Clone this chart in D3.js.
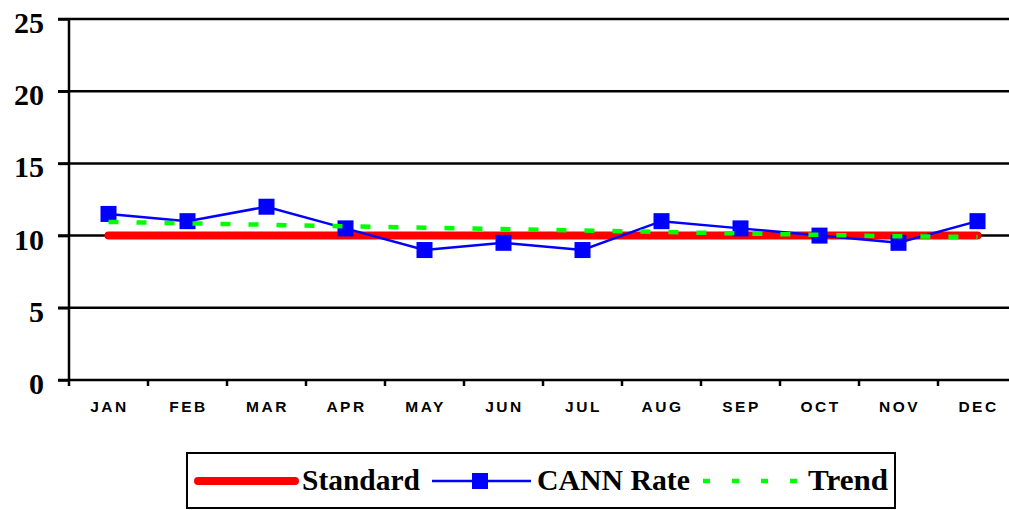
<!DOCTYPE html>
<html>
<head>
<meta charset="utf-8">
<script src="https://cdn.jsdelivr.net/npm/d3@7"></script>
<style>
  html, body { margin: 0; padding: 0; background: #fff; }
  svg { display: block; }
</style>
</head>
<body>
<svg width="1009" height="510"></svg>
<script>
(function () {

var months = ['JAN','FEB','MAR','APR','MAY','JUN','JUL','AUG','SEP','OCT','NOV','DEC'];
var standard = [10,10,10,10,10,10,10,10,10,10,10,10];
var cannRate = [11.5,11,12,10.5,9,9.5,9,11,10.5,10,9.5,11];
var trend = [10.95,10.85,10.75,10.65,10.55,10.45,10.35,10.25,10.15,10.05,9.95,9.9];
var yTicks = [0,5,10,15,20,25];

var svg = d3.select('svg');

var x = d3.scaleBand().domain(months).range([69, 1017]);
var y = d3.scaleLinear().domain([0, 25]).range([380, 19]);
var cx = function (i) { return x(months[i]) + x.bandwidth() / 2; };

// grid lines
svg.selectAll('line.grid')
  .data(yTicks.filter(function (d) { return d > 0; }))
  .enter().append('line')
  .attr('x1', 58).attr('x2', 1009)
  .attr('y1', function (d) { return y(d); })
  .attr('y2', function (d) { return y(d); })
  .style('stroke', '#000').style('stroke-width', 2.5);

// y axis
var yAxis = svg.append('g')
  .attr('transform', 'translate(69,0)')
  .call(d3.axisLeft(y).tickValues(yTicks).tickSize(11).tickPadding(14));
yAxis.select('.domain').attr('d', 'M0,19V380').style('stroke-width', 2.5);
yAxis.selectAll('.tick line').style('stroke-width', 2.5);
yAxis.selectAll('text')
  .attr('dy', '0.45em')
  .style('font-family', '"Liberation Serif", "Times New Roman", serif')
  .style('font-weight', 'bold')
  .style('font-size', '30px')
  .style('fill', '#000');

// x axis
var xAxis = svg.append('g')
  .attr('transform', 'translate(0,380)');
xAxis.append('line')
  .attr('x1', 58).attr('x2', 1009)
  .style('stroke', '#000').style('stroke-width', 2.5);
xAxis.selectAll('line.tk')
  .data(months)
  .enter().append('line')
  .attr('x1', function (d) { return x(d); })
  .attr('x2', function (d) { return x(d); })
  .attr('y1', 0).attr('y2', 6)
  .style('stroke', '#000').style('stroke-width', 2.5);
xAxis.selectAll('text')
  .data(months)
  .enter().append('text')
  .attr('x', function (d) { return x(d) + x.bandwidth() / 2 + 1; })
  .attr('y', 32)
  .attr('text-anchor', 'middle')
  .style('font-family', '"Liberation Sans", Arial, sans-serif')
  .style('font-weight', 'bold')
  .style('font-size', '15.5px')
  .style('letter-spacing', '2.5px')
  .text(function (d) { return d; });

var line = d3.line()
  .x(function (d, i) { return cx(i); })
  .y(function (d) { return y(d); });

// standard
svg.append('path')
  .datum(standard)
  .attr('d', line)
  .style('fill', 'none')
  .style('stroke', '#ff0000')
  .style('stroke-width', 8)
  .style('stroke-linecap', 'round');

// cann rate
svg.append('path')
  .datum(cannRate)
  .attr('d', line)
  .style('fill', 'none')
  .style('stroke', '#0000ff')
  .style('stroke-width', 2.5);

svg.selectAll('rect.pt')
  .data(cannRate)
  .enter().append('rect')
  .attr('x', function (d, i) { return cx(i) - 8; })
  .attr('y', function (d) { return y(d) - 8; })
  .attr('width', 16).attr('height', 16)
  .style('fill', '#0000ff');

// trend
svg.append('path')
  .datum(trend)
  .attr('d', line)
  .style('fill', 'none')
  .style('stroke', '#00ff00')
  .style('stroke-width', 4.5)
  .style('stroke-dasharray', '10,18');

// legend
var lg = svg.append('g');
lg.append('rect')
  .attr('x', 187).attr('y', 453)
  .attr('width', 708).attr('height', 55)
  .style('fill', '#fff')
  .style('stroke', '#000').style('stroke-width', 2);

var ly = 481;
lg.append('line')
  .attr('x1', 198).attr('x2', 295).attr('y1', ly).attr('y2', ly)
  .style('stroke', '#ff0000').style('stroke-width', 8).style('stroke-linecap', 'round');
lg.append('line')
  .attr('x1', 432).attr('x2', 531).attr('y1', ly).attr('y2', ly)
  .style('stroke', '#0000ff').style('stroke-width', 2.5);
lg.append('rect')
  .attr('x', 472).attr('y', ly - 8).attr('width', 16).attr('height', 16)
  .style('fill', '#0000ff');
lg.append('line')
  .attr('x1', 703).attr('x2', 800).attr('y1', ly).attr('y2', ly)
  .style('stroke', '#00ff00').style('stroke-width', 4.5).style('stroke-dasharray', '7,22');

var legendText = [['Standard', 302, 118], ['CANN Rate', 537, 153], ['Trend', 808, 80]];
lg.selectAll('text')
  .data(legendText)
  .enter().append('text')
  .attr('x', function (d) { return d[1]; })
  .attr('y', 490)
  .attr('textLength', function (d) { return d[2]; })
  .attr('lengthAdjust', 'spacingAndGlyphs')
  .style('font-family', '"Liberation Serif", "Times New Roman", serif')
  .style('font-weight', 'bold')
  .style('font-size', '29px')
  .text(function (d) { return d[0]; });

})();
</script>
</body>
</html>
